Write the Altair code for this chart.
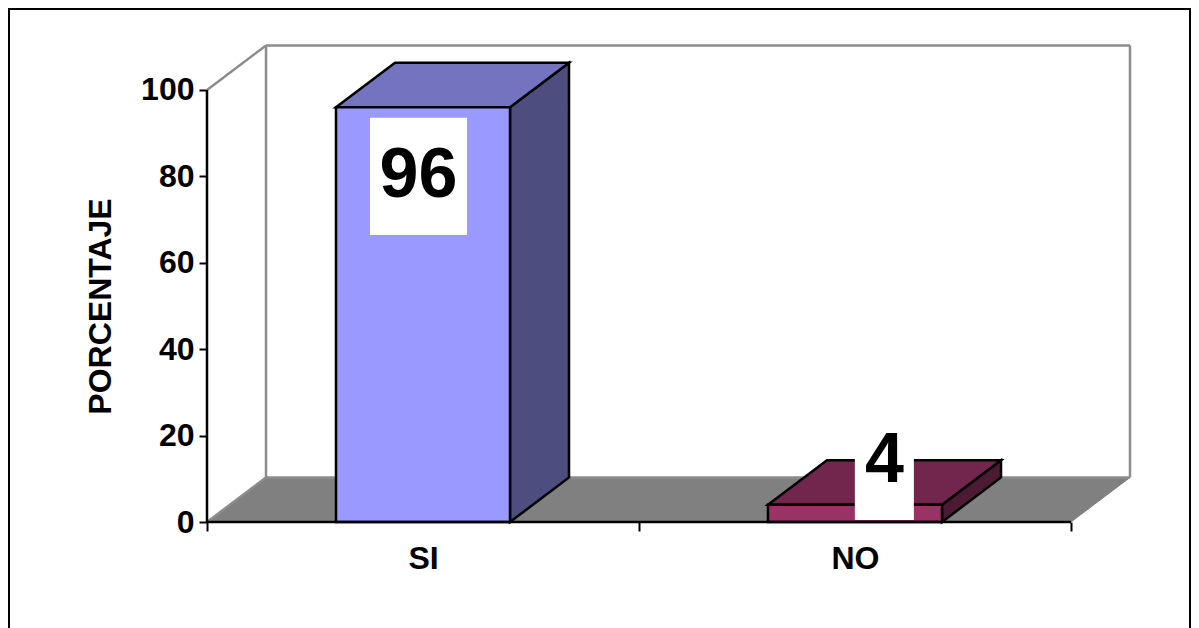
import altair as alt
import pandas as pd

categories = ["SI", "NO"]
values = [96, 4]
slots = [0, 1]
bar_lo = 0.2986
bar_hi = 0.7014
depth_x = 0.1366
depth_y = 10.3
x_end = 2
y_end = 100

front_colors = ["#9999FF", "#993366"]
top_colors = ["#7373BF", "#73264D"]
side_colors = ["#4D4D80", "#4D1A33"]

label_x = [0.4896, 1.568]
label_y = [80, 14]
label_w = [0.2245, 0.1366]
label_h = [27.1, 27.1]
text_y = [80.0, 14.1]

y_ticks = [0, 20, 40, 60, 80, 100]
x_ticks = [0, 1, 2]
x_label_pos = [0.5, 1.5]

FONT = "Liberation Sans"
xs = alt.Scale(domain=[0, x_end + depth_x], nice=False, zero=False)
ys = alt.Scale(domain=[0, y_end + depth_y + 0.1], nice=False, zero=False)
X = lambda f: alt.X(f, type="quantitative", scale=xs, axis=None)
Y = lambda f: alt.Y(f, type="quantitative", scale=ys, axis=None)

layers = []

# frame
frame = pd.DataFrame({"a": [0]})
fr = alt.Chart(frame).mark_rule(color="#000000", strokeWidth=2)
layers += [
    fr.encode(x=alt.value(-198), y=alt.value(-37), y2=alt.value(583)),
    fr.encode(x=alt.value(983), y=alt.value(-37), y2=alt.value(583)),
    fr.encode(x=alt.value(-198), x2=alt.value(983), y=alt.value(-36)),
]

# axis ticks layer
tick_df = pd.DataFrame({"x": x_ticks, "y": [0, 0, 0]})
layers.append(
    alt.Chart(tick_df).mark_point(opacity=0).encode(
        x=alt.X("x:Q", scale=xs, title=None, axis=alt.Axis(
            values=x_ticks, labels=False, domain=False, grid=False, tickColor="#000000",
            tickWidth=2, tickSize=9, title=None, orient="bottom")),
        y=alt.Y("y:Q", scale=ys, title="PORCENTAJE", axis=alt.Axis(
            values=y_ticks, domain=False, grid=False, tickColor="#000000", tickWidth=2, tickSize=8,
            labelFont=FONT, labelFontSize=32, labelFontWeight="bold", labelColor="#000000", labelPadding=5,
            titleFont=FONT, titleFontSize=32, titleFontWeight="bold", titleColor="#000000",
            titleX=-107, titleY=261, titleAngle=270, titleAlign="center", titleBaseline="middle")),
    )
)

# floor
floor = pd.DataFrame({"y": [0, depth_y], "x": [0, depth_x], "x2": [x_end, x_end + depth_x]})
layers.append(alt.Chart(floor).mark_area(orient="horizontal", color="#808080", stroke="#808080").encode(
    y=Y("y"), x=X("x"), x2="x2"))

# back wall lines and side wall edges
wall = pd.DataFrame({
    "x": [depth_x, depth_x, x_end + depth_x, depth_x, 0, 0],
    "x2": [depth_x, x_end + depth_x, x_end + depth_x, x_end + depth_x, depth_x, depth_x],
    "y": [depth_y, y_end + depth_y, depth_y, depth_y, y_end, 0],
    "y2": [y_end + depth_y, y_end + depth_y, y_end + depth_y, depth_y, y_end + depth_y, depth_y],
})
layers.append(alt.Chart(wall).mark_rule(color="#8C8C8C", strokeWidth=2.5).encode(
    x=X("x"), x2="x2", y=Y("y"), y2="y2"))

# bars
for slot, v, fc, tc, sc in zip(slots, values, front_colors, top_colors, side_colors):
    lo, hi = slot + bar_lo, slot + bar_hi
    side = pd.DataFrame({"x": [hi, hi + depth_x], "y": [0, depth_y], "y2": [v, v + depth_y]})
    top = pd.DataFrame({"y": [v, v + depth_y], "x": [lo, lo + depth_x], "x2": [hi, hi + depth_x]})
    front = pd.DataFrame({"x": [lo], "x2": [hi], "y": [0], "y2": [v]})
    layers.append(alt.Chart(side).mark_area(color=sc, stroke="#000000", strokeWidth=2.5).encode(
        x=X("x"), y=Y("y"), y2="y2"))
    layers.append(alt.Chart(top).mark_area(orient="horizontal", color=tc, stroke="#000000", strokeWidth=2.5).encode(
        y=Y("y"), x=X("x"), x2="x2"))
    layers.append(alt.Chart(front).mark_rect(color=fc, stroke="#000000", strokeWidth=2.5).encode(
        x=X("x"), x2="x2", y=Y("y"), y2="y2"))

# axis lines
axes = pd.DataFrame({"x": [0, 0], "x2": [0, x_end], "y": [0, 0], "y2": [y_end, 0]})
layers.append(alt.Chart(axes).mark_rule(color="#000000", strokeWidth=2.5).encode(
    x=X("x"), x2="x2", y=Y("y"), y2="y2"))

# data labels
lab = pd.DataFrame({
    "x": label_x, "y": label_y, "w": label_w, "h": label_h, "ty": text_y, "v": values,
})
lab["x1"] = lab.x - lab.w / 2
lab["x2"] = lab.x + lab.w / 2
lab["y1"] = lab.y - lab.h / 2
lab["y2"] = lab.y + lab.h / 2
layers.append(alt.Chart(lab).mark_rect(color="#FFFFFF").encode(
    x=X("x1"), x2="x2", y=Y("y1"), y2="y2"))
layers.append(alt.Chart(lab).mark_text(
    font=FONT, fontSize=70, fontWeight="bold", color="#000000", baseline="middle", align="center"
).encode(x=X("x"), y=Y("ty"), text="v:Q"))

# category labels
cat = pd.DataFrame({"x": x_label_pos, "y": [0, 0]})
expr = f"datum.value < 1 ? '{categories[0]}' : '{categories[1]}'"
layers.append(alt.Chart(cat).mark_point(opacity=0).encode(
    x=alt.X("x:Q", scale=xs, title=None, axis=alt.Axis(
        values=x_label_pos, ticks=False, domain=False, grid=False, labelExpr=expr, title=None,
        orient="bottom",
        labelFont=FONT, labelFontSize=32, labelFontWeight="bold", labelColor="#000000",
        labelPadding=21, labelBaseline="top")),
    y=Y("y"),
))

chart = alt.layer(*layers).resolve_axis(x="independent", y="independent").properties(
    width=923, height=477, autosize="none",
    padding={"left": 199, "top": 37, "right": 61, "bottom": 106},
    background="#FFFFFF",
).configure_view(stroke=None)

chart.save("out.html", embed_options={"renderer": "svg", "actions": False})
